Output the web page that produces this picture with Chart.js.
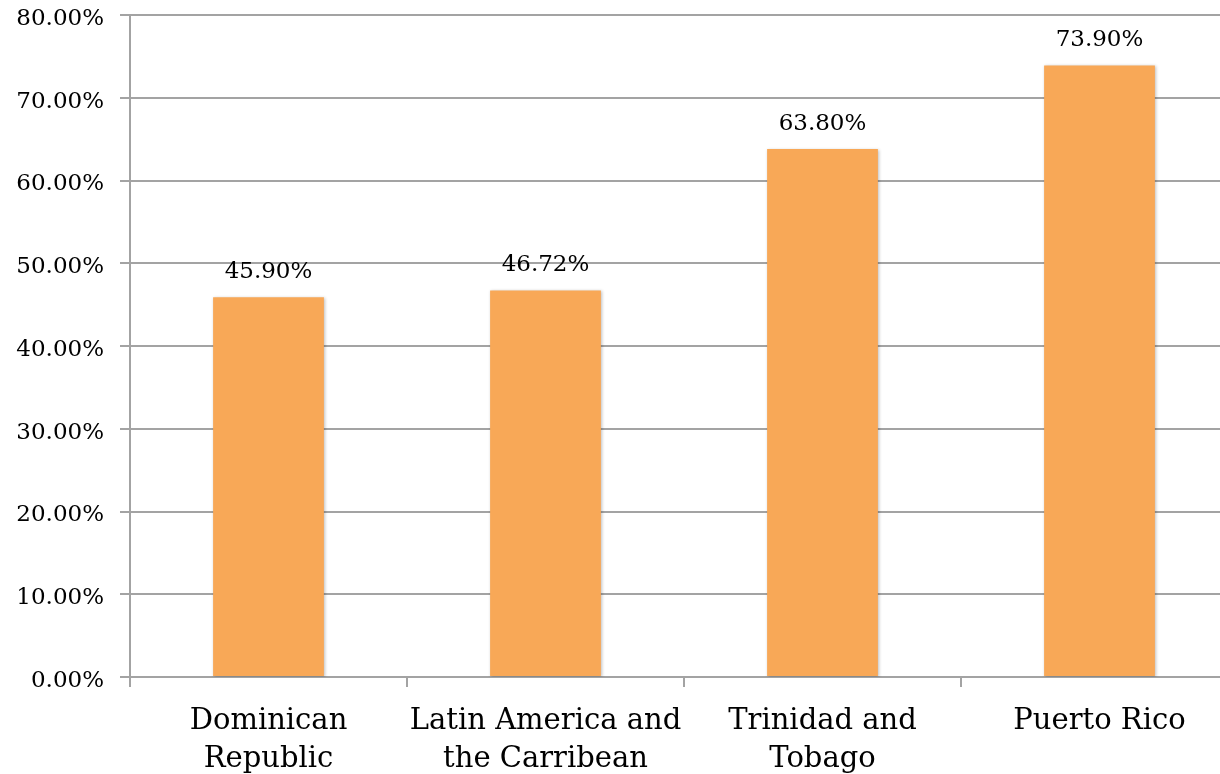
<!DOCTYPE html>
<html lang="en">
<head>
  <meta charset="UTF-8" />
  <title>Bar chart</title>
  <script src="https://cdn.jsdelivr.net/npm/chart.js"></script>
  <style>
    html, body { margin: 0; padding: 0; background: #fff; overflow: hidden; }
    #wrap { width: 1238px; height: 774px; }
  </style>
</head>
<body>
  <div id="wrap"><canvas id="barChart"></canvas></div>
  <script>
    const categories = [
      ['Dominican', 'Republic'],
      ['Latin America and', 'the Carribean'],
      ['Trinidad and', 'Tobago'],
      ['Puerto Rico']
    ];
    const values = [45.90, 46.72, 63.80, 73.90];
    const yMax = 80;
    const yStep = 10;

    const gridColor = '#a3a3a3';
    const fontFamily = '"DejaVu Serif", serif';

    // draws the value above each bar
    const valueLabels = {
      id: 'valueLabels',
      afterDatasetsDraw(chart) {
        const ctx = chart.ctx;
        const meta = chart.getDatasetMeta(0);
        ctx.save();
        ctx.font = '23px ' + fontFamily;
        ctx.fillStyle = '#000';
        ctx.textAlign = 'center';
        ctx.textBaseline = 'alphabetic';
        meta.data.forEach((bar, i) => {
          ctx.fillText(values[i].toFixed(2) + '%', bar.x, bar.y - 19);
        });
        ctx.restore();
      }
    };

    // soft shadow on the bars
    const barShadow = {
      id: 'barShadow',
      beforeDatasetDraw(chart) {
        const ctx = chart.ctx;
        ctx.save();
        ctx.shadowColor = 'rgba(0,0,0,0.25)';
        ctx.shadowBlur = 3;
        ctx.shadowOffsetX = 1;
        ctx.shadowOffsetY = 1;
      },
      afterDatasetDraw(chart) {
        chart.ctx.restore();
      }
    };

    new Chart(document.getElementById('barChart'), {
      type: 'bar',
      data: {
        labels: categories,
        datasets: [{
          data: values,
          backgroundColor: '#f8a857',
          borderWidth: 0,
          barPercentage: 0.4,
          categoryPercentage: 1.0
        }]
      },
      options: {
        responsive: true,
        maintainAspectRatio: false,
        animation: false,
        layout: { padding: { top: 15, right: 0, bottom: 0, left: 0 } },
        plugins: {
          legend: { display: false },
          tooltip: { enabled: false }
        },
        scales: {
          x: {
            offset: true,
            grid: {
              offset: true,
              drawOnChartArea: false,
              drawTicks: true,
              tickLength: 10,
              color: gridColor,
              lineWidth: 2
            },
            border: { display: true, color: gridColor, width: 2 },
            ticks: {
              color: '#000',
              font: { family: fontFamily, size: 29, lineHeight: 1.3 },
              padding: 16,
              maxRotation: 0,
              autoSkip: false
            },
            afterFit(scale) { scale.height = 97; }
          },
          y: {
            min: 0,
            max: yMax,
            grid: {
              color: gridColor,
              lineWidth: 2,
              tickLength: 10
            },
            border: { display: true, color: gridColor, width: 2 },
            ticks: {
              stepSize: yStep,
              color: '#000',
              font: { family: fontFamily, size: 23 },
              padding: 16,
              labelOffset: 4,
              callback: v => v.toFixed(2) + '%'
            },
            afterFit(scale) {
              scale.width = 130;
              scale.paddingTop = 0;
              scale.paddingBottom = 0;
            }
          }
        }
      },
      plugins: [barShadow, valueLabels]
    });
  </script>
</body>
</html>
